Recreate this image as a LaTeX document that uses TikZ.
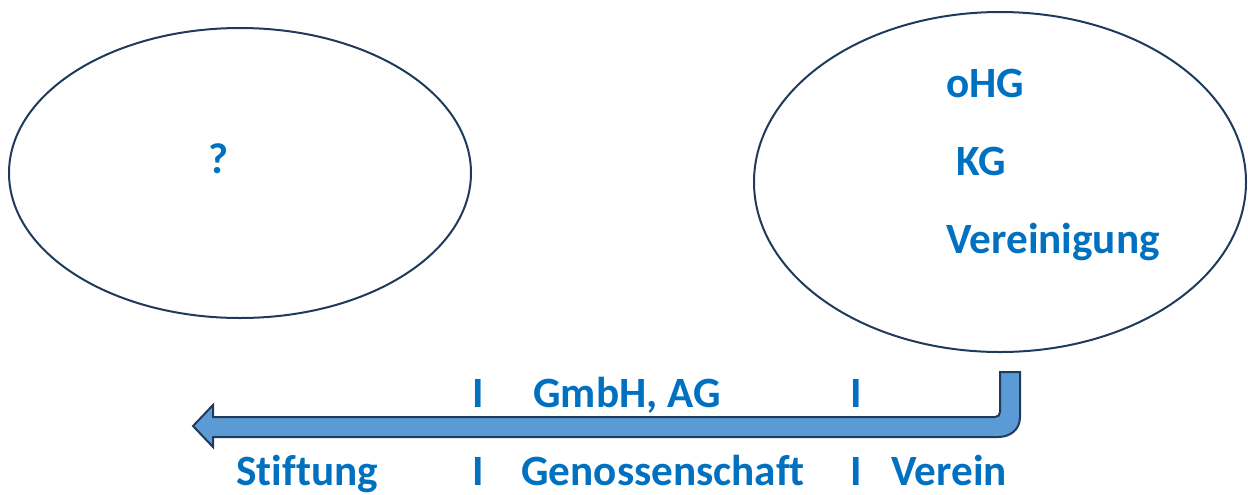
\documentclass[tikz,border=0pt]{standalone}
\usepackage{fontspec}
\setmainfont{Carlito}[Ligatures=NoCommon]
\definecolor{txtblue}{HTML}{0070C0}
\definecolor{arrowfill}{HTML}{5B9BD5}
\definecolor{darkline}{HTML}{1F3A5A}
\begin{document}
\begin{tikzpicture}[x=0.5pt,y=-0.5pt,
  lbl/.style={anchor=base west,inner sep=0pt,text=txtblue,font=\fontsize{21.6}{26}\selectfont\bfseries},
  oval/.style={draw=darkline,line width=1pt},
  bigarrow/.style={draw=darkline,fill=arrowfill,line width=1pt,line join=miter}]
\useasboundingbox (0,0) rectangle (1248,494);
% ellipses
\draw[oval] (240,173) ellipse [x radius=231, y radius=145];
\draw[oval] (1000,182) ellipse [x radius=246, y radius=170];
% arrow
\draw[bigarrow] (1000,372) -- (1020,372) -- (1020,417)
  .. controls (1020,429) and (1011,437) .. (998,437)
  -- (213,437) -- (213,447) -- (193,426) -- (213,405) -- (213,417)
  -- (995,417) .. controls (998,417) and (1000,415) .. (1000,412) -- cycle;
% texts
\node[lbl] (q) at (208,173) {?};
\node[lbl] (ohg) at (946,97) {oHG};
\node[lbl] (kg) at (956,175) {KG};
\node[lbl] (ver) at (946,253) {Vereinigung};
\node[lbl] (s1) at (472,407) {I};
\node[lbl] (gmbh) at (533,407) {GmbH, AG};
\node[lbl] (s2) at (850,407) {I};
\node[lbl] (stift) at (236,485) {Stiftung};
\node[lbl] (s3) at (472,485) {I};
\node[lbl] (geno) at (521,485) {Genossenschaft};
\node[lbl] (s4) at (850,485) {I};
\node[lbl] (verein) at (891,485) {Verein};
\end{tikzpicture}
\end{document}
